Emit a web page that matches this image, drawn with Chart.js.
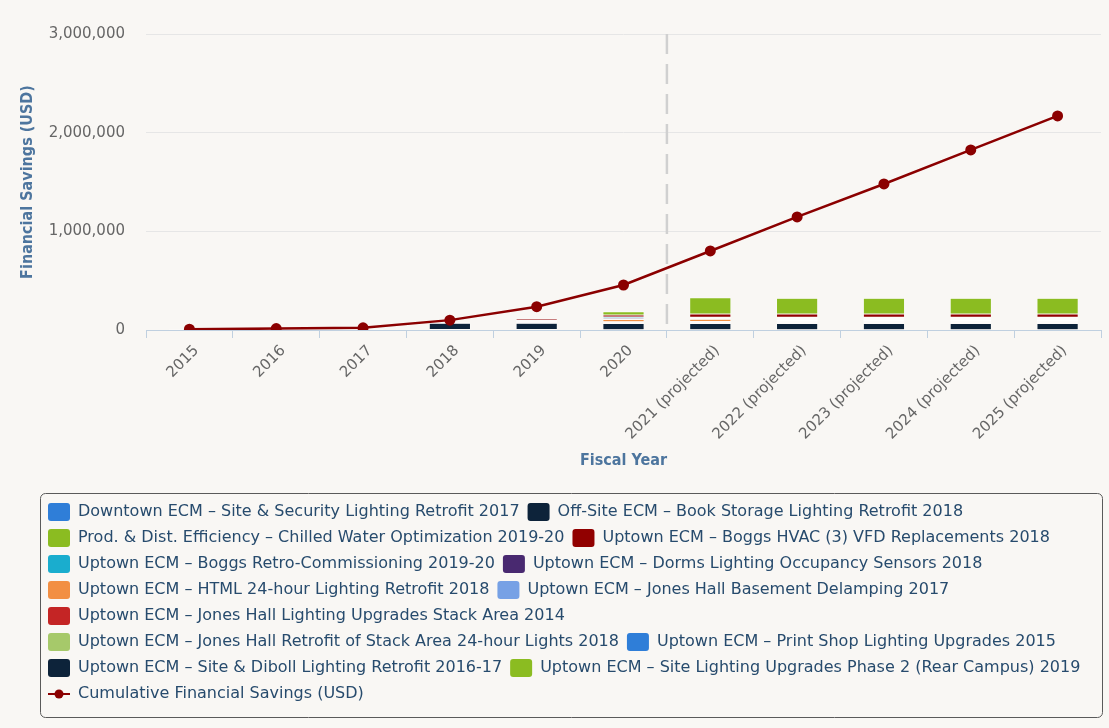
<!DOCTYPE html>
<html>
<head>
<meta charset="utf-8">
<script src="https://cdn.jsdelivr.net/npm/chart.js@4.4.1/dist/chart.umd.min.js"></script>
<style>
  html, body { margin: 0; padding: 0; background: #f9f7f4; }
  #wrap { width: 1109px; height: 728px; position: relative; }
</style>
</head>
<body>
<div id="wrap"><canvas id="chart"></canvas></div>
<script>
// ---------------- DATA ----------------
const categories = ['2015', '2016', '2017', '2018', '2019', '2020',
  '2021 (projected)', '2022 (projected)', '2023 (projected)', '2024 (projected)', '2025 (projected)'];

const yTickValues = [0, 1000000, 2000000, 3000000];

const seriesNames = [
  'Downtown ECM – Site & Security Lighting Retrofit 2017',
  'Off-Site ECM – Book Storage Lighting Retrofit 2018',
  'Prod. & Dist. Efficiency – Chilled Water Optimization 2019-20',
  'Uptown ECM – Boggs HVAC (3) VFD Replacements 2018',
  'Uptown ECM – Boggs Retro-Commissioning 2019-20',
  'Uptown ECM – Dorms Lighting Occupancy Sensors 2018',
  'Uptown ECM – HTML 24-hour Lighting Retrofit 2018',
  'Uptown ECM – Jones Hall Basement Delamping 2017',
  'Uptown ECM – Jones Hall Lighting Upgrades Stack Area 2014',
  'Uptown ECM – Jones Hall Retrofit of Stack Area 24-hour Lights 2018',
  'Uptown ECM – Print Shop Lighting Upgrades 2015',
  'Uptown ECM – Site & Diboll Lighting Retrofit 2016-17',
  'Uptown ECM – Site Lighting Upgrades Phase 2 (Rear Campus) 2019'
];
const lineName = 'Cumulative Financial Savings (USD)';

// annual savings per project (USD), 2015 .. 2025
const downtownSiteSecurity  = [0, 0, 0, 2000, 2000, 3000, 3000, 3000, 3000, 3000, 3000];
const offSiteBookStorage    = [0, 0, 0, 0, 2000, 3000, 3000, 3000, 3000, 3000, 3000];
const chilledWater          = [0, 0, 0, 0, 0, 35000, 165000, 160000, 160000, 160000, 160000];
const boggsHvac             = [0, 0, 0, 0, 15000, 20000, 33000, 33000, 33000, 33000, 33000];
const boggsRetroCx          = [0, 0, 0, 0, 8000, 12000, 9000, 9000, 9000, 9000, 9000];
const dormsOccupancy        = [0, 0, 0, 0, 8000, 12000, 9000, 9000, 9000, 9000, 9000];
const html24Hour            = [0, 0, 0, 0, 0, 24000, 25000, 9000, 9000, 9000, 9000];
const jonesBasement         = [0, 0, 2000, 3000, 4000, 4000, 5000, 9000, 9000, 9000, 9000];
const jonesStackArea        = [5000, 5000, 5000, 5000, 4000, 4000, 5000, 9000, 9000, 9000, 9000];
const jonesRetrofit24h      = [0, 0, 0, 3000, 4000, 4000, 5000, 9000, 9000, 9000, 9000];
const printShop             = [3000, 3000, 3000, 3000, 4000, 4000, 5000, 9000, 9000, 9000, 9000];
const siteDiboll            = [0, 0, 0, 68000, 68000, 64000, 62000, 62000, 62000, 62000, 62000];
const siteLightingPhase2    = [0, 0, 0, 0, 0, 3000, 3000, 3000, 3000, 3000, 3000];

const cumulativeSavings = [8000, 14000, 22000, 100000, 236000, 456000, 801000, 1146000, 1480000, 1825000, 2170000];

const barSeries = [downtownSiteSecurity, offSiteBookStorage, chilledWater, boggsHvac, boggsRetroCx,
  dormsOccupancy, html24Hour, jonesBasement, jonesStackArea, jonesRetrofit24h, printShop,
  siteDiboll, siteLightingPhase2];

// ---------------- STYLE ----------------
const palette = ['#2f7ed8', '#0d233a', '#8bbc21', '#910000', '#1aadce', '#492970', '#f28f43',
  '#77a1e5', '#c42525', '#a6c96a', '#2f7ed8', '#0d233a', '#8bbc21'];
const lineColor = '#8b0000';

Chart.defaults.font.family = "'DejaVu Sans', sans-serif";

const datasets = barSeries.map((vals, i) => ({
  type: 'bar',
  label: seriesNames[i],
  data: vals,
  backgroundColor: palette[i],
  borderColor: '#ffffff',
  borderWidth: 0.5,
  borderSkipped: false,
  inflateAmount: 0,
  stack: 'projects',
  order: barSeries.length - i,   // first series on top of the stack
  barPercentage: 0.475,
  categoryPercentage: 1
}));
datasets.push({
  type: 'line',
  label: lineName,
  data: cumulativeSavings,
  borderColor: lineColor,
  backgroundColor: lineColor,
  borderWidth: 2.5,
  pointRadius: 5.5,
  pointBackgroundColor: lineColor,
  pointBorderWidth: 0,
  tension: 0,
  stack: 'cumulative',
  order: 0
});

const titleFont = { family: "'DejaVu Sans Condensed', 'Liberation Sans Narrow', 'DejaVu Sans', sans-serif", weight: 'bold', size: 16 };

const customPlugin = {
  id: 'customDecor',
  afterLayout(chart) {
    const lg = chart.legend;
    lg.left = 40;
    lg.right = 1109;
    lg.width = lg.right - lg.left;
  },
  beforeDatasetsDraw(chart) {
    const { ctx, chartArea, scales } = chart;
    const x = (scales.x.getPixelForValue(5) + scales.x.getPixelForValue(6)) / 2;
    ctx.save();
    ctx.strokeStyle = '#d0d0d0';
    ctx.lineWidth = 2.5;
    ctx.setLineDash([20, 10]);
    ctx.beginPath();
    ctx.moveTo(x, chartArea.top);
    ctx.lineTo(x, chartArea.bottom + 4);
    ctx.stroke();
    ctx.restore();
  },
  afterDraw(chart) {
    const { ctx } = chart;
    const lg = chart.legend;
    ctx.save();
    ctx.strokeStyle = '#5a5a5a';
    ctx.lineWidth = 1;
    ctx.beginPath();
    if (ctx.roundRect) {
      ctx.roundRect(40.5, lg.top - 1.5, 1062, lg.bottom - lg.top + 6, 5);
    } else {
      ctx.rect(40.5, lg.top - 1.5, 1062, lg.bottom - lg.top + 6);
    }
    ctx.stroke();
    const hb = lg.legendHitBoxes[lg.legendItems.length - 1];
    if (hb) {
      const cy = hb.top + hb.height / 2;
      ctx.strokeStyle = lineColor;
      ctx.lineWidth = 2;
      ctx.beginPath();
      ctx.moveTo(hb.left, cy);
      ctx.lineTo(hb.left + 22, cy);
      ctx.stroke();
      ctx.fillStyle = lineColor;
      ctx.beginPath();
      ctx.arc(hb.left + 11, cy, 4.5, 0, Math.PI * 2);
      ctx.fill();
    }
    ctx.restore();
  }
};

new Chart(document.getElementById('chart'), {
  data: { labels: categories, datasets },
  options: {
    responsive: true,
    maintainAspectRatio: false,
    animation: false,
    layout: { padding: { left: 10, right: 8, top: 34, bottom: 15 } },
    plugins: {
      tooltip: { enabled: false },
      legend: {
        position: 'bottom',
        align: 'start',
        labels: {
          boxWidth: 22,
          boxHeight: 18,
          padding: 8,
          color: '#274b6d',
          font: { size: 16 },
          useBorderRadius: true,
          borderRadius: 3,
          sort: (a, b) => a.datasetIndex - b.datasetIndex,
          generateLabels(chart) {
            const items = Chart.defaults.plugins.legend.labels.generateLabels(chart);
            items.forEach(it => {
              const ds = chart.data.datasets[it.datasetIndex];
              it.lineWidth = 0;
              it.strokeStyle = 'rgba(0,0,0,0)';
              it.fillStyle = ds.type === 'line' ? 'rgba(0,0,0,0)' : ds.backgroundColor;
            });
            return items;
          }
        }
      }
    },
    scales: {
      x: {
        stacked: true,
        offset: true,
        afterFit(scale) { scale.height = 165; },
        grid: { display: true, drawOnChartArea: false, drawTicks: true, tickLength: 8, color: '#c0d0e0', offset: true },
        border: { display: true, color: '#c0d0e0', width: 1 },
        ticks: { color: '#666666', font: { size: 15 }, minRotation: 45, maxRotation: 45, autoSkip: false, padding: 4, labelOffset: 7 },
        title: { display: true, text: 'Fiscal Year', color: '#4d759e', font: titleFont, padding: { top: 7, bottom: 25 } }
      },
      y: {
        stacked: true,
        min: 0,
        max: 3000000,
        afterFit(scale) { scale.width = 136; },
        afterBuildTicks(scale) { scale.ticks = yTickValues.map(v => ({ value: v })); },
        grid: { color: c => (c.tick && c.tick.value === 0 ? 'rgba(0,0,0,0)' : '#e6e6e6'), drawTicks: false, lineWidth: 1 },
        border: { display: false },
        ticks: { color: '#666666', font: { size: 15 }, padding: 21, callback: v => Number(v).toLocaleString('en-US') },
        title: { display: true, text: 'Financial Savings (USD)', color: '#4d759e', font: titleFont, padding: { top: 8, bottom: 12 } }
      }
    }
  },
  plugins: [customPlugin]
});
</script>
</body>
</html>
